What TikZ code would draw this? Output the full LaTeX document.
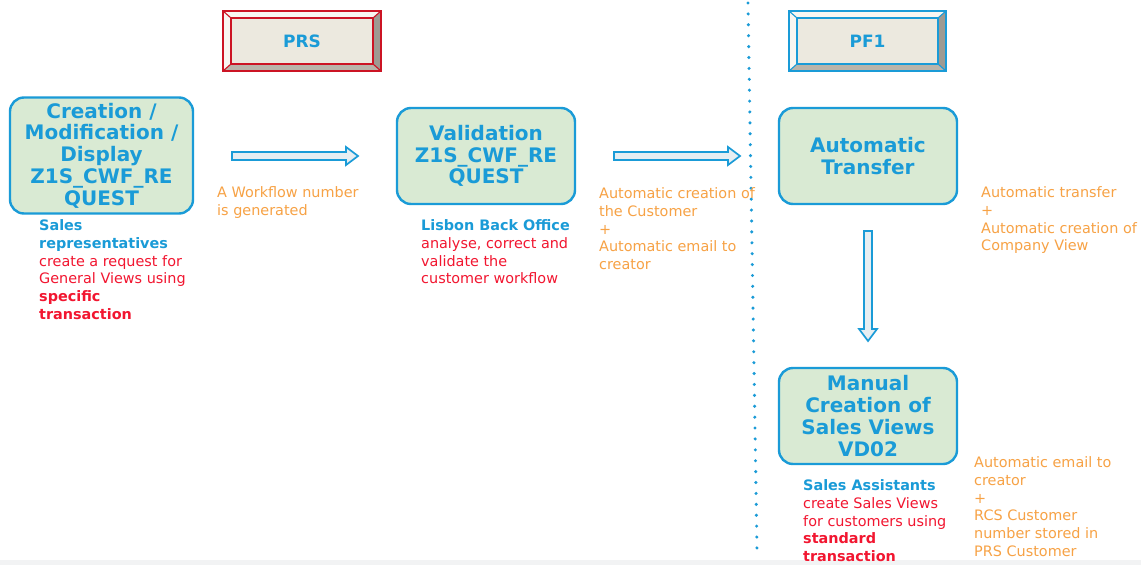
\documentclass[tikz,border=0pt]{standalone}
\usepackage{fontspec}
\setmainfont{DejaVu Sans}
\usetikzlibrary{calc}

\definecolor{sapblue}{HTML}{1A9BD7}
\definecolor{boxfill}{HTML}{D9EAD3}
\definecolor{txtred}{HTML}{F21630}
\definecolor{txtorange}{HTML}{F7A245}
\definecolor{prsred}{HTML}{CC1424}
\definecolor{bevelface}{HTML}{ECE9DF}
\definecolor{bevellight}{HTML}{F8F6F1}
\definecolor{beveldark}{HTML}{9E9A92}
\definecolor{bevelmid}{HTML}{B9B4AA}
\definecolor{arrowfill}{HTML}{E6EEF2}
\definecolor{stripgrey}{HTML}{F2F3F4}

\newcommand\boxfont{\fontsize{20}{21.7}\selectfont\bfseries}
\newcommand\notefont{\fontsize{14.4}{17.7}\selectfont}
\newcommand\tagfont{\fontsize{17}{19}\selectfont\bfseries}
\newcommand\bl[1]{\textcolor{sapblue}{\bfseries #1}}
\newcommand\rd[1]{\textcolor{txtred}{#1}}
\newcommand\rb[1]{\textcolor{txtred}{\bfseries #1}}

\tikzset{
  stepbox/.style={draw=sapblue, line width=2.4pt, fill=boxfill, rounded corners=14pt,
    align=center, font=\boxfont, text=sapblue, inner sep=0pt,
    minimum width=178pt, minimum height=96pt},
  note/.style={anchor=north west, align=left, inner sep=0pt, font=\notefont},
  onote/.style={note, text=txtorange},
  barrow/.style={draw=sapblue, line width=1.7pt, fill=arrowfill, line join=miter},
}

% bevelled system tag: name, x1, y1, x2, y2, frame colour, label
\newcommand\bevelbox[7]{%
  \fill[bevellight] (#2,#3) -- (#4,#3) -- (#4-8,#3+7) -- (#2+8,#3+7) -- cycle;
  \fill[bevellight] (#2,#3) -- (#2+8,#3+7) -- (#2+8,#5-7) -- (#2,#5) -- cycle;
  \fill[beveldark] (#4,#3) -- (#4,#5) -- (#4-8,#5-7) -- (#4-8,#3+7) -- cycle;
  \fill[bevelmid] (#2,#5) -- (#4,#5) -- (#4-8,#5-7) -- (#2+8,#5-7) -- cycle;
  \fill[bevelface] (#2+8,#3+7) rectangle (#4-8,#5-7);
  \draw[#6, line width=1.1pt] (#2,#3) -- (#2+8,#3+7) (#4,#3) -- (#4-8,#3+7)
    (#2,#5) -- (#2+8,#5-7) (#4,#5) -- (#4-8,#5-7);
  \draw[#6, line width=1.3pt] (#2+8,#3+7) rectangle (#4-8,#5-7);
  \draw[#6, line width=2.4pt] (#2,#3) rectangle (#4,#5);
  \node[font=\tagfont, text=sapblue, inner sep=0pt] (#1) at ({(#2+#4)/2},{(#3+#5)/2}) {#7};
}

% hollow block arrows between two named points
\newcommand\harrow[2]{%
  \draw[barrow] ($(#1)+(0,-4)$) -- ($(#2)+(-12,-4)$) -- ($(#2)+(-12,-9)$) -- (#2)
    -- ($(#2)+(-12,9)$) -- ($(#2)+(-12,4)$) -- ($(#1)+(0,4)$) -- cycle;}
\newcommand\varrow[2]{%
  \draw[barrow] ($(#1)+(-4,0)$) -- ($(#2)+(-4,-12)$) -- ($(#2)+(-9,-12)$) -- (#2)
    -- ($(#2)+(9,-12)$) -- ($(#2)+(4,-12)$) -- ($(#1)+(4,0)$) -- cycle;}

\begin{document}
\begin{tikzpicture}[x=1pt, y=-1pt]
  \useasboundingbox (0,0) rectangle (1141,565);
  \fill[white] (0,0) rectangle (1141,565);
  \fill[stripgrey] (0,560) rectangle (1141,565);

  % system tags
  \bevelbox{prs}{223}{11}{381}{71}{prsred}{PRS}
  \bevelbox{pf1}{789}{11}{946}{71}{sapblue}{PF1}

  % system boundary
  \coordinate (divtop) at (748,3);
  \coordinate (divbot) at (757,550);
  \draw[sapblue, line width=3.4pt, line cap=round, dash pattern=on 0pt off 10.9pt] (divtop) -- (divbot);

  % process steps
  \node[stepbox, minimum width=183pt, minimum height=116pt] (create) at (101.5,155.5)
    {Creation /\\Modification /\\Display\\Z1S\_CWF\_RE\\QUEST};
  \node[stepbox] (valid) at (486,156) {Validation\\Z1S\_CWF\_RE\\QUEST};
  \node[stepbox] (transfer) at (868,156) {Automatic\\Transfer};
  \node[stepbox] (manual) at (868,416) {Manual\\Creation of\\Sales Views\\VD02};

  % flow arrows
  \coordinate (a1s) at (232,156);  \coordinate (a1e) at (358,156);
  \coordinate (a2s) at (614,156);  \coordinate (a2e) at (740,156);
  \coordinate (a3s) at (868,231);  \coordinate (a3e) at (868,341);
  \harrow{a1s}{a1e}
  \harrow{a2s}{a2e}
  \varrow{a3s}{a3e}

  % actors
  \node[note] (salesrep) at (39,219.5)
    {\bl{Sales}\\\bl{representatives}\\\rd{create a request for}\\\rd{General Views using}\\\rb{specific}\\\rb{transaction}};
  \node[note] (lisbon) at (421,219.5)
    {\bl{Lisbon Back Office}\\\rd{analyse, correct and}\\\rd{validate the}\\\rd{customer workflow}};
  \node[note] (assist) at (803,479.5)
    {\bl{Sales Assistants}\\\rd{create Sales Views}\\\rd{for customers using}\\\rb{standard}\\\rb{transaction}};

  % system actions
  \node[onote] (wfnum) at (217,186.5) {A Workflow number\\is generated};
  \node[onote] (custcreate) at (599,187.5)
    {Automatic creation of\\the Customer\\+\\Automatic email to\\creator};
  \node[onote] (autotrans) at (981,186.5)
    {Automatic transfer\\+\\Automatic creation of\\Company View};
  \node[onote] (rcsmail) at (974,456.5)
    {Automatic email to\\creator\\+\\RCS Customer\\number stored in\\PRS Customer};
\end{tikzpicture}
\end{document}
